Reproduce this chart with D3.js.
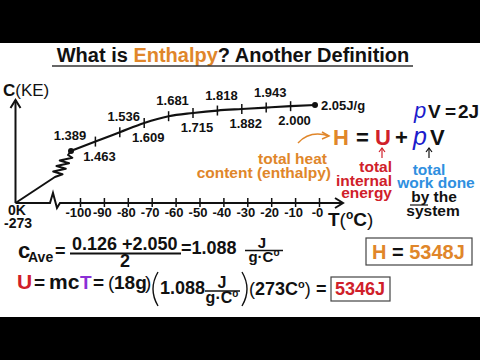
<!DOCTYPE html>
<html lang="en">
<head>
<meta charset="UTF-8">
<script src="https://d3js.org/d3.v7.min.js"></script>
<style>
    body { margin: 0; background: #000; }
    svg { display: block; font-family: "Liberation Sans", Arial, sans-serif; font-weight: bold; }
</style>
</head>
<body>
<div id="chart"></div>
<script>
// specific heat, one value per 10 degrees
var temps = [-100, -90, -80, -70, -60, -50, -40, -30, -20, -10, 0];
var heatCap = [1.389, 1.463, 1.536, 1.609, 1.681, 1.715, 1.818, 1.882, 1.943, 2.000, 2.05];
var capLabels = ["1.389", "1.463", "1.536", "1.609", "1.681", "1.715", "1.818", "1.882", "1.943", "2.000", "2.05J/g"];
var axisTicks = [-100, -90, -80, -70, -60, -50, -40, -30, -20, -10, 0];
var axisTickLabels = ["-100", "-90", "-80", "-70", "-60", "-50", "-40", "-30", "-20", "-10", "-0"];

var orange = "#e0862a", red = "#d0202a", darkBlue = "#1c1ccc", lightBlue = "#2f8fe0", purple = "#8b2fd6";

var svg = d3.select("#chart").append("svg").attr("width", 480).attr("height", 360);
svg.append("rect").attr("width", 480).attr("height", 360).attr("fill", "#000");
svg.append("rect").attr("y", 43).attr("width", 480).attr("height", 274).attr("fill", "#fff");

// text with coloured / sized pieces
function rich(x, y, parts, opts) {
    opts = opts || {};
    var t = svg.append("text").attr("x", x).attr("y", y)
        .attr("text-anchor", opts.anchor || "start")
        .attr("fill", opts.fill || "#111")
        .style("font-size", (opts.size || 16) + "px")
        .style("font-weight", opts.weight || "bold");
    parts.forEach(function(p) {
        var s = t.append("tspan").text(p.t);
        if (p.fill) s.attr("fill", p.fill);
        if (p.size) s.style("font-size", p.size + "px");
        if (p.weight) s.style("font-weight", p.weight);
        if (p.italic) s.style("font-style", "italic");
        if (p.dy) s.attr("dy", p.dy);
        if (p.x != null) s.attr("x", p.x);
    });
    return t;
}

function stroke(d, col, w) {
    return svg.append("path").attr("d", d).attr("fill", "none")
        .attr("stroke", col || "#111").attr("stroke-width", w || 1.5);
}

// title
rich(233, 62, [{t: "What is "}, {t: "Enthalpy", fill: orange}, {t: "? Another Definition"}], {anchor: "middle", size: 20});
svg.append("line").attr("x1", 52).attr("x2", 413).attr("y1", 66).attr("y2", 66)
    .attr("stroke", "#333").attr("stroke-width", 1.5);

// scales
var x = d3.scaleLinear().domain([-100, 0]).range([80, 319]);     // temperature axis
var xc = d3.scaleLinear().domain([-100, 0]).range([71, 315]);    // where the curve is drawn
var y = d3.scaleLinear().domain([1.389, 1.609, 1.715, 2.05]).range([151, 123, 113, 105]);

var origin = [15.5, 203];

// axes
var axisCol = "#111";
var breakX = origin[0] + (x(-100) - origin[0]) * 0.55;
stroke(d3.line()([origin, [breakX - 1, 203], [breakX + 2, 193], [breakX + 6, 208], [breakX + 9, 203], [343, 203]]), axisCol, 2);
stroke(d3.line()([[335, 198], [343, 203], [335, 208]]), axisCol, 2);
stroke(d3.line()([origin, [origin[0], 100]]), axisCol, 2);
stroke(d3.line()([[origin[0] - 5, 108], [origin[0], 100], [origin[0] + 5, 108]]), axisCol, 2);

var xAxis = svg.append("g").attr("transform", "translate(0,203)")
    .call(d3.axisBottom(x).tickValues(axisTicks).tickFormat(function(d, i) { return axisTickLabels[i]; }).tickSize(4));
xAxis.select(".domain").remove();
xAxis.selectAll(".tick line").attr("y1", -5).attr("stroke", axisCol).attr("stroke-width", 1.5);
xAxis.selectAll(".tick text").attr("y", 14).attr("dy", 0).attr("dx", -2)
    .attr("fill", "#111").style("font-size", "13px").style("font-weight", "bold")
    .style("font-family", "'Liberation Sans', Arial, sans-serif");

rich(17, 215, [{t: "0K"}], {anchor: "middle", size: 14});
rich(18, 228, [{t: "-273"}], {anchor: "middle", size: 14});
rich(3, 96, [{t: "C", size: 17}, {t: "(KE)", weight: "normal"}], {size: 17});
rich(328, 226, [{t: "T", size: 19}, {t: "(", weight: "normal"}, {t: "o", size: 12, dy: -7}, {t: "C", dy: 7}, {t: ")", weight: "normal"}], {size: 19});

// curve
var pts = temps.map(function(t, i) { return [xc(t), y(heatCap[i])]; });
var P = pts[0];
var S = [origin[0] + (P[0] - origin[0]) * 0.71, origin[1] - (origin[1] - P[1]) * 0.5];
var E = [P[0] - 3, P[1] + 4];
var spring = [origin, S];
for (var k = 1; k < 8; k++) {
    var f = k / 8;
    spring.push([S[0] + f * (E[0] - S[0]) + (k % 2 ? 6 : -5), S[1] + f * (E[1] - S[1])]);
}
spring.push(E, P);
stroke(d3.line()(spring), "#111", 2).attr("stroke-linejoin", "round");
stroke(d3.line().curve(d3.curveMonotoneX)(pts), "#111", 2.2);

svg.selectAll(".ctick").data(pts.slice(1, -1)).enter().append("line")
    .attr("x1", function(d) { return d[0]; }).attr("x2", function(d) { return d[0]; })
    .attr("y1", function(d) { return d[1] - 5; }).attr("y2", function(d) { return d[1] + 5; })
    .attr("stroke", "#111").attr("stroke-width", 1.5);
svg.selectAll(".cdot").data([pts[0], pts[pts.length - 1]]).enter().append("circle")
    .attr("cx", function(d) { return d[0]; }).attr("cy", function(d) { return d[1]; })
    .attr("r", 3).attr("fill", "#111");

svg.selectAll(".clab").data(capLabels).enter().append("text")
    .attr("x", function(d, i) {
        if (i === capLabels.length - 1) return pts[i][0] + 6;
        return pts[i][0] + (i === 0 ? -1 : 4);
    })
    .attr("y", function(d, i) {
        if (i === capLabels.length - 1) return pts[i][1] + 5;
        return pts[i][1] + (i % 2 ? 19 : -11);
    })
    .attr("text-anchor", function(d, i) { return i === capLabels.length - 1 ? "start" : "middle"; })
    .attr("fill", "#111").style("font-size", "13px")
    .text(function(d) { return d; });

// H = U + pV
rich(414, 118, [
    {t: "p", fill: darkBlue, italic: true, weight: "normal", size: 22},
    {t: "V", x: 428},
    {t: "=", x: 445},
    {t: "2J", x: 458}
], {size: 19});
rich(333, 145, [
    {t: "H", fill: orange, x: 333},
    {t: "=", x: 356},
    {t: "U", fill: red, x: 375},
    {t: "+", x: 395},
    {t: "p", fill: darkBlue, italic: true, weight: "normal", size: 25, x: 413},
    {t: "V", x: 430}
], {size: 22});

// arrows
stroke("M298,143 Q310,130 329,136", orange);
stroke(d3.line()([[322, 132], [329, 136], [322, 139]]), orange);
[[382, red], [429, "#111"]].forEach(function(a) {
    stroke(d3.line()([[a[0], 158], [a[0], 148]]), a[1], 1.2);
    stroke(d3.line()([[a[0] - 3, 152], [a[0], 148], [a[0] + 3, 152]]), a[1], 1.2);
});

rich(327, 164, [{t: "total heat"}], {anchor: "end", fill: orange, size: 15.5});
rich(331, 178, [{t: "content (enthalpy)"}], {anchor: "end", fill: orange, size: 15.5});
rich(392, 172, [{t: "total"}], {anchor: "end", fill: red, size: 15.5});
rich(392, 186, [{t: "internal"}], {anchor: "end", fill: red, size: 15.5});
rich(392, 198, [{t: "energy"}], {anchor: "end", fill: red, size: 15.5});
rich(429, 175, [{t: "total"}], {anchor: "middle", fill: lightBlue, size: 15.5});
rich(436, 188, [{t: "work done"}], {anchor: "middle", fill: lightBlue, size: 15.5});
rich(434, 202, [{t: "by the"}], {anchor: "middle", size: 15.5});
svg.append("line").attr("x1", 410).attr("x2", 428).attr("y1", 205).attr("y2", 205)
    .attr("stroke", "#111").attr("stroke-width", 1.2);
rich(433, 216, [{t: "system"}], {anchor: "middle", size: 15.5});

// c average
rich(18, 258, [{t: "c"}], {size: 22});
rich(28, 262, [{t: "Ave"}], {size: 14});
rich(55, 257, [{t: "="}], {size: 18});
rich(72, 250, [{t: "0.126 +2.050"}], {size: 18});
svg.append("line").attr("x1", 70).attr("x2", 181).attr("y1", 253.5).attr("y2", 253.5)
    .attr("stroke", "#111").attr("stroke-width", 2);
rich(125, 267, [{t: "2"}], {anchor: "middle", size: 18});
rich(181, 254, [{t: "=1.088"}], {size: 18});
rich(262, 248, [{t: "J"}], {anchor: "middle", size: 15});
svg.append("line").attr("x1", 245).attr("x2", 283).attr("y1", 250.5).attr("y2", 250.5)
    .attr("stroke", "#111").attr("stroke-width", 1.5);
rich(264, 262, [{t: "g·C"}, {t: "o", size: 10, dy: -6}], {anchor: "middle", size: 15});

// U = mcT
rich(17, 289, [
    {t: "U", fill: red, size: 21},
    {t: "=", x: 34},
    {t: "mc", x: 49, size: 21},
    {t: "T", fill: purple, x: 80},
    {t: "=", x: 93},
    {t: "(", weight: "normal", x: 108},
    {t: "18g", x: 114},
    {t: ")", weight: "normal", x: 145}
], {size: 19});
stroke("M158,272 Q148,289 158,306", "#111", 1.4);
rich(160, 294, [{t: "1.088"}], {size: 18});
rich(222, 288, [{t: "J"}], {anchor: "middle", size: 16});
svg.append("line").attr("x1", 205).attr("x2", 240).attr("y1", 291).attr("y2", 291)
    .attr("stroke", "#111").attr("stroke-width", 1.5);
rich(222, 303, [{t: "g·C"}, {t: "o", size: 10, dy: -6}], {anchor: "middle", size: 16});
stroke("M242,272 Q252,289 242,306", "#111", 1.4);
rich(249, 295, [{t: "(", weight: "normal"}, {t: "273C"}, {t: "o", size: 11, dy: -7}, {t: ")", weight: "normal", dy: 7}, {t: "=", x: 316}], {size: 18});
svg.append("rect").attr("x", 331).attr("y", 277).attr("width", 59).attr("height", 24)
    .attr("fill", "none").attr("stroke", "#444").attr("stroke-width", 1.2);
rich(360, 295, [{t: "5346J", fill: red}], {anchor: "middle", size: 18});

svg.append("rect").attr("x", 366).attr("y", 238).attr("width", 106).attr("height", 27)
    .attr("fill", "none").attr("stroke", "#444").attr("stroke-width", 1.2);
rich(372, 259, [{t: "H", fill: orange}, {t: " = "}, {t: "5348J", fill: orange}], {size: 20});
</script>
</body>
</html>
